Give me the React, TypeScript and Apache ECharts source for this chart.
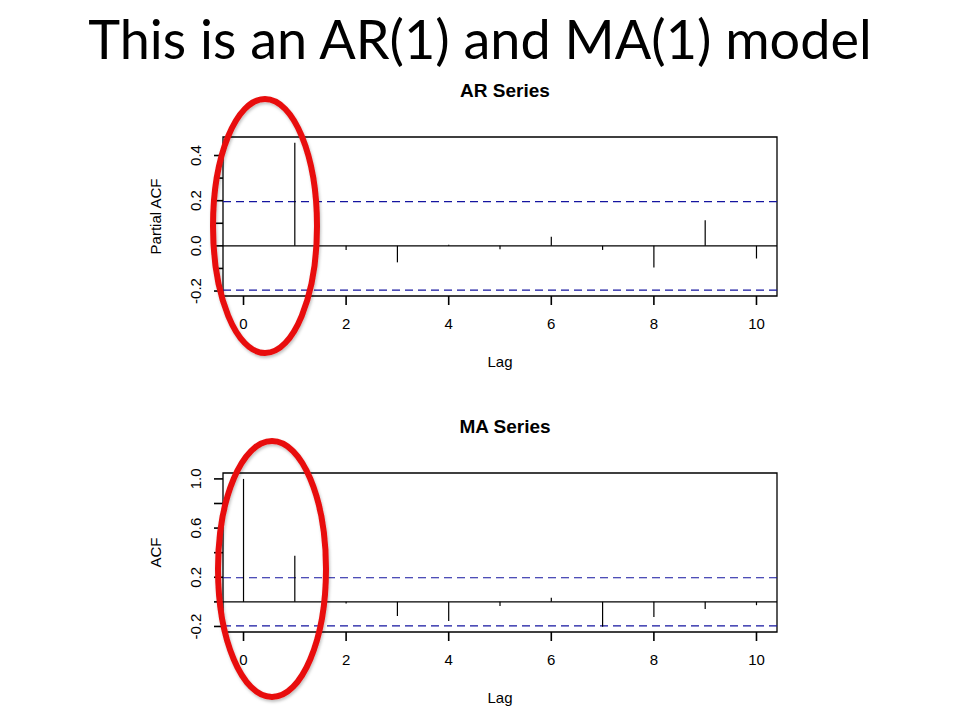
import React, { useEffect, useRef } from "react";
import * as echarts from "echarts";

const arLags = [1, 2, 3, 4, 5, 6, 7, 8, 9, 10];
const arPacf = [0.456, -0.018, -0.073, 0.005, -0.015, 0.04, -0.018, -0.096, 0.113, -0.056];
const maLags = [0, 1, 2, 3, 4, 5, 6, 7, 8, 9, 10];
const maAcf = [1.0, 0.375, -0.014, -0.115, -0.156, -0.033, 0.033, -0.202, -0.123, -0.057, -0.027];
const arCi = 0.196;
const maCi = 0.196;
const xTickValues = [0, 2, 4, 6, 8, 10];
const arYTicks = [-0.2, -0.1, 0, 0.1, 0.2, 0.3, 0.4];
const arYLabels = [-0.2, 0, 0.2, 0.4];
const maYTicks = [-0.2, 0, 0.2, 0.4, 0.6, 0.8, 1.0];
const maYLabels = [-0.2, 0.2, 0.6, 1.0];

const FONT = "'Liberation Sans', Arial, sans-serif";
const CI_COLOR = "#1515a0";
const TICK_LEN = 9;
const X_MIN = -0.4;
const X_MAX = 10.4;
const Y_RANGES = [
  [-0.222, 0.482],
  [-0.245, 1.048],
];

function spikeRender(params: any, api: any) {
  const x = api.value(0);
  const y = api.value(1);
  const p0 = api.coord([x, 0]);
  const p1 = api.coord([x, y]);
  return {
    type: "line",
    shape: { x1: p0[0], y1: p0[1], x2: p1[0], y2: p1[1] },
    style: { stroke: "#000", lineWidth: 1.2 },
  };
}

function hlineRender(params: any, api: any) {
  const y = api.value(0);
  const dashed = api.value(1) === 1;
  const cs = params.coordSys;
  const p = api.coord([0, y]);
  return {
    type: "line",
    shape: { x1: cs.x, y1: p[1], x2: cs.x + cs.width, y2: p[1] },
    style: dashed
      ? { stroke: CI_COLOR, lineWidth: 1.2, lineDash: [8, 5] }
      : { stroke: "#000", lineWidth: 1.2 },
  };
}

function xAxisCfg(gridIndex: number) {
  return {
    type: "value",
    gridIndex,
    position: "bottom",
    min: X_MIN,
    max: X_MAX,
    name: "Lag",
    nameLocation: "middle",
    nameGap: 58,
    nameTextStyle: { fontFamily: FONT, fontSize: 15, color: "#000" },
    axisLine: { show: false, onZero: false },
    splitLine: { show: false },
    axisTick: { show: false },
    axisLabel: {
      show: true,
      customValues: xTickValues,
      margin: 20,
      fontFamily: FONT,
      fontSize: 15,
      color: "#000",
      formatter: (v: number) => String(v),
    },
  };
}

function yAxisCfg(gridIndex: number, labels: number[], name: string) {
  return {
    type: "value",
    gridIndex,
    position: "left",
    min: Y_RANGES[gridIndex][0],
    max: Y_RANGES[gridIndex][1],
    name,
    nameLocation: "middle",
    nameGap: 60,
    nameRotate: 90,
    nameTextStyle: { fontFamily: FONT, fontSize: 15, color: "#000" },
    axisLine: { show: false, onZero: false },
    splitLine: { show: false },
    axisTick: { show: false },
    axisLabel: {
      show: true,
      customValues: labels,
      rotate: 90,
      margin: 20,
      fontFamily: FONT,
      fontSize: 15,
      color: "#000",
      formatter: (v: number) => v.toFixed(1),
    },
  };
}

export default function App() {
  const ref = useRef<HTMLDivElement>(null);
  useEffect(() => {
    document.body.style.margin = "0";
    if (!ref.current) return;
    const chart = echarts.init(ref.current, undefined, { renderer: "svg" });
    const ellipseStyle = {
      fill: "none",
      stroke: "#e8100f",
      lineWidth: 6,
      shadowBlur: 3,
      shadowColor: "rgba(0,0,0,0.25)",
      shadowOffsetX: 1,
      shadowOffsetY: 2,
    };
    const gridDefs = [
      { left: 223, width: 554, top: 137, height: 159 },
      { left: 223, width: 554, top: 473, height: 159 },
    ];
    chart.setOption({
      animation: false,
      backgroundColor: "#fff",
      title: [
        {
          text: "This is an AR(1) and MA(1) model",
          left: "center",
          top: 6,
          textStyle: { fontFamily: "Lato, 'Open Sans', sans-serif", fontSize: 54, fontWeight: "normal", color: "#000" },
        },
        {
          text: "AR Series",
          left: 500,
          textAlign: "center",
          top: 76,
          textStyle: { fontFamily: FONT, fontSize: 19, fontWeight: "bold", color: "#000" },
        },
        {
          text: "MA Series",
          left: 500,
          textAlign: "center",
          top: 412,
          textStyle: { fontFamily: FONT, fontSize: 19, fontWeight: "bold", color: "#000" },
        },
      ],
      grid: gridDefs.map((g) => ({
        ...g,
        show: true,
        borderColor: "#000",
        borderWidth: 1.3,
        backgroundColor: "transparent",
      })),
      xAxis: [xAxisCfg(0), xAxisCfg(1)],
      yAxis: [yAxisCfg(0, arYLabels, "Partial ACF"), yAxisCfg(1, maYLabels, "ACF")],
      series: [
        {
          type: "custom",
          xAxisIndex: 0,
          yAxisIndex: 0,
          renderItem: hlineRender,
          data: [[0, 0], [arCi, 1], [-arCi, 1]],
          silent: true,
        },
        {
          type: "custom",
          xAxisIndex: 1,
          yAxisIndex: 1,
          renderItem: hlineRender,
          data: [[0, 0], [maCi, 1], [-maCi, 1]],
          silent: true,
        },
        {
          type: "custom",
          xAxisIndex: 0,
          yAxisIndex: 0,
          renderItem: spikeRender,
          data: arLags.map((l, i) => [l, arPacf[i]]),
        },
        {
          type: "custom",
          xAxisIndex: 1,
          yAxisIndex: 1,
          renderItem: spikeRender,
          data: maLags.map((l, i) => [l, maAcf[i]]),
        },
      ],
    });

    // Axis tick marks positioned through the chart's own axis scales
    const toX = (gi: number, v: number) => {
      const p = chart.convertToPixel({ xAxisIndex: gi }, v) as any;
      const n = Array.isArray(p) ? p[0] : p;
      if (Number.isFinite(n)) return n as number;
      const g = gridDefs[gi];
      return g.left + ((v - X_MIN) / (X_MAX - X_MIN)) * g.width;
    };
    const toY = (gi: number, v: number) => {
      const p = chart.convertToPixel({ yAxisIndex: gi }, v) as any;
      const n = Array.isArray(p) ? p[1] : p;
      if (Number.isFinite(n)) return n as number;
      const g = gridDefs[gi];
      const [lo, hi] = Y_RANGES[gi];
      return g.top + g.height - ((v - lo) / (hi - lo)) * g.height;
    };
    const tickMarks: any[] = [];
    const yTickSets = [arYTicks, maYTicks];
    gridDefs.forEach((g, gi) => {
      const bottom = g.top + g.height;
      xTickValues.forEach((v) => {
        const px = toX(gi, v);
        tickMarks.push({
          type: "rect",
          shape: { x: px - 0.8, y: bottom, width: 1.6, height: TICK_LEN },
          style: { fill: "#000" },
          silent: true,
          z: 50,
        });
      });
      yTickSets[gi].forEach((v) => {
        const py = toY(gi, v);
        tickMarks.push({
          type: "rect",
          shape: { x: g.left - TICK_LEN, y: py - 0.8, width: TICK_LEN, height: 1.6 },
          style: { fill: "#000" },
          silent: true,
          z: 50,
        });
      });
    });

    chart.setOption({
      graphic: [
        ...tickMarks,
        { type: "ellipse", shape: { cx: 265, cy: 226, rx: 52, ry: 127 }, style: ellipseStyle, z: 100 },
        { type: "ellipse", shape: { cx: 272, cy: 569, rx: 54, ry: 128 }, style: ellipseStyle, z: 100 },
      ],
    });
    return () => chart.dispose();
  }, []);
  return <div ref={ref} style={{ width: 960, height: 720 }} />;
}
